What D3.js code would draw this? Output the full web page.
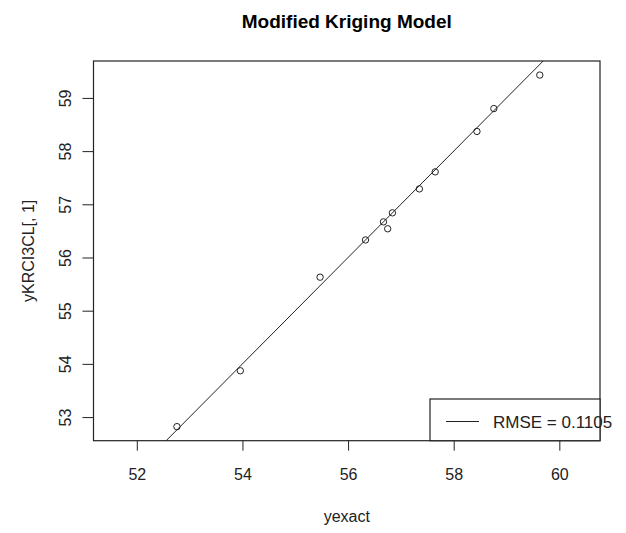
<!DOCTYPE html>
<html>
<head>
<meta charset="utf-8">
<script src="https://cdn.jsdelivr.net/npm/d3@7"></script>
<style>
  html, body { margin: 0; padding: 0; background: #fff; }
  svg { display: block; font-family: "Liberation Sans", Arial, Helvetica, sans-serif; }
</style>
</head>
<body>
<svg id="chart" width="626" height="533"></svg>
<script>
// Exact responses vs. modified kriging predictions
const yexact = [52.76, 53.96, 55.47, 56.33, 56.67, 56.75, 56.84, 57.35, 57.65, 58.44, 58.76, 59.63];
const yPred  = [52.82, 53.87, 55.63, 56.33, 56.67, 56.54, 56.84, 57.29, 57.61, 58.37, 58.80, 59.43];
const xTicks = [52, 54, 56, 58, 60];
const yTicks = [53, 54, 55, 56, 57, 58, 59];
const xLimits = [51.18, 60.77];
const legendText = "RMSE = 0.1105";

const W = 626, H = 533;
const plot = { left: 93.5, right: 600, top: 61, bottom: 440.7 };

const svg = d3.select("#chart");

// y range padded by 4% on each side
const [yMin, yMax] = d3.extent(yPred);
const pad = (yMax - yMin) * 0.04;

const x = d3.scaleLinear().domain(xLimits).range([plot.left, plot.right]);
const y = d3.scaleLinear().domain([yMin - pad, yMax + pad]).range([plot.bottom, plot.top]);

const ink = "#222";

// clip for the reference line
svg.append("clipPath").attr("id", "plotClip")
  .append("rect")
  .attr("x", plot.left).attr("y", plot.top)
  .attr("width", plot.right - plot.left).attr("height", plot.bottom - plot.top);

// axes
const xAxis = svg.append("g")
  .attr("transform", `translate(0,${plot.bottom})`)
  .call(d3.axisBottom(x).tickValues(xTicks).tickSize(10).tickPadding(18).tickFormat(d3.format("d")));
const yAxis = svg.append("g")
  .attr("transform", `translate(${plot.left},0)`)
  .call(d3.axisLeft(y).tickValues(yTicks).tickSize(11).tickPadding(0).tickFormat(d3.format("d")));

[xAxis, yAxis].forEach(g => {
  g.select(".domain").remove();
  g.selectAll(".tick line").attr("stroke", ink).attr("stroke-width", 1);
  g.selectAll(".tick text").attr("fill", ink).attr("font-size", 16).attr("font-family", null);
});
xAxis.selectAll(".tick text").attr("dy", "0.71em");
// rotated y tick labels
yAxis.selectAll(".tick text")
  .attr("x", null)
  .attr("text-anchor", "middle")
  .attr("transform", "translate(-28.5,0) rotate(-90)")
  .attr("dy", "0.35em");

// identity line y = x
const lo = Math.min(xLimits[0], y.domain()[0]) - 1;
const hi = Math.max(xLimits[1], y.domain()[1]) + 1;
svg.append("line")
  .attr("clip-path", "url(#plotClip)")
  .attr("x1", x(lo)).attr("y1", y(lo))
  .attr("x2", x(hi)).attr("y2", y(hi))
  .attr("stroke", ink).attr("stroke-width", 1);

// points
svg.append("g").selectAll("circle")
  .data(yexact.map((v, i) => [v, yPred[i]]))
  .join("circle")
  .attr("cx", d => x(d[0]))
  .attr("cy", d => y(d[1]))
  .attr("r", 3.2)
  .attr("fill", "none")
  .attr("stroke", ink)
  .attr("stroke-width", 1);

// plot frame
svg.append("rect")
  .attr("x", plot.left).attr("y", plot.top)
  .attr("width", plot.right - plot.left).attr("height", plot.bottom - plot.top)
  .attr("fill", "none").attr("stroke", ink).attr("stroke-width", 1.2);

// legend (bottom-right)
const lg = svg.append("g");
lg.append("rect")
  .attr("x", 430).attr("y", 399)
  .attr("width", plot.right - 430).attr("height", plot.bottom - 399)
  .attr("fill", "#fff").attr("stroke", ink).attr("stroke-width", 1.2);
lg.append("line")
  .attr("x1", 446).attr("x2", 479).attr("y1", 421.5).attr("y2", 421.5)
  .attr("stroke", ink).attr("stroke-width", 1);
lg.append("text")
  .attr("x", 493).attr("y", 427.5)
  .attr("font-size", 17).attr("fill", ink)
  .text(legendText);

// title and axis labels
svg.append("text")
  .attr("x", (plot.left + plot.right) / 2).attr("y", 28)
  .attr("text-anchor", "middle")
  .attr("font-size", 19).attr("font-weight", "bold").attr("fill", "#000")
  .text("Modified Kriging Model");

svg.append("text")
  .attr("x", (plot.left + plot.right) / 2).attr("y", 522)
  .attr("text-anchor", "middle")
  .attr("font-size", 16).attr("fill", ink)
  .text("yexact");

svg.append("text")
  .attr("transform", `translate(34,${(plot.top + plot.bottom) / 2}) rotate(-90)`)
  .attr("text-anchor", "middle")
  .attr("font-size", 16).attr("fill", ink)
  .text("yKRCI3CL[, 1]");
</script>
</body>
</html>
